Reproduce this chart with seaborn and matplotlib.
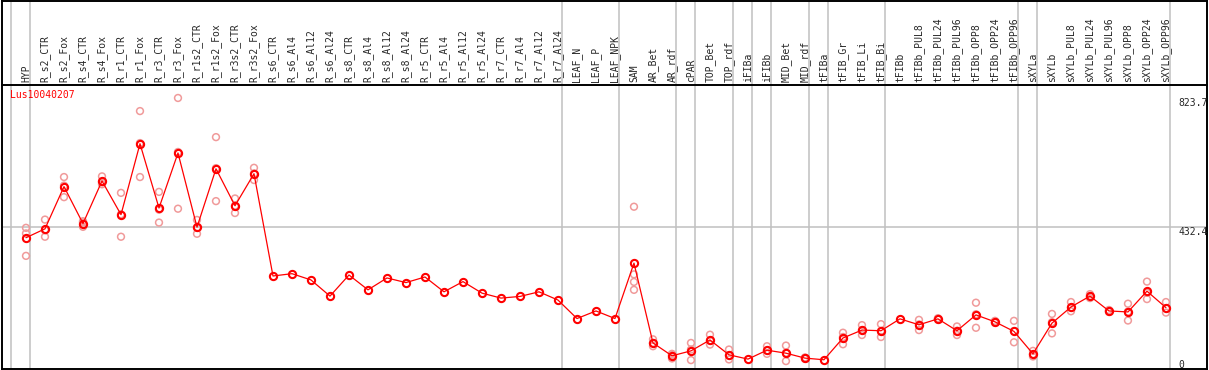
import numpy as np
import pandas as pd
import matplotlib
matplotlib.use('Agg')
import matplotlib.pyplot as plt
import seaborn as sns

# Amostras (eixo x)
samples = ['HYP', 'R_s2_CTR', 'R_s2_Fox', 'R_s4_CTR', 'R_s4_Fox', 'R_r1_CTR', 'R_r1_Fox',
           'R_r3_CTR', 'R_r3_Fox', 'R_r1s2_CTR', 'R_r1s2_Fox', 'R_r3s2_CTR', 'R_r3s2_Fox',
           'R_s6_CTR', 'R_s6_Al4', 'R_s6_Al12', 'R_s6_Al24', 'R_s8_CTR', 'R_s8_Al4', 'R_s8_Al12',
           'R_s8_Al24', 'R_r5_CTR', 'R_r5_Al4', 'R_r5_Al12', 'R_r5_Al24', 'R_r7_CTR', 'R_r7_Al4',
           'R_r7_Al12', 'R_r7_Al24', 'LEAF_N', 'LEAF_P', 'LEAF_NPK', 'SAM', 'AR_Bet', 'AR_rdf',
           'cPAR', 'TOP_Bet', 'TOP_rdf', 'iFIBa', 'iFIBb', 'MID_Bet', 'MID_rdf', 'tFIBa',
           'tFIB_Gr', 'tFIB_Li', 'tFIB_Bi', 'tFIBb', 'tFIBb_PUL8', 'tFIBb_PUL24', 'tFIBb_PUL96',
           'tFIBb_OPP8', 'tFIBb_OPP24', 'tFIBb_OPP96', 'sXYLa', 'sXYLb', 'sXYLb_PUL8',
           'sXYLb_PUL24', 'sXYLb_PUL96', 'sXYLb_OPP8', 'sXYLb_OPP24', 'sXYLb_OPP96']

# Expressão média por amostra
means = [400, 427, 555, 443, 572, 470, 685, 490, 657, 432, 609, 497, 594,
         284, 291, 272, 223, 287, 242, 278, 264, 281, 236, 267, 232, 217, 222, 236, 211,
         155, 178, 155, 323, 81, 42, 57, 90, 45, 32, 59, 50, 35, 30,
         96, 120, 118, 154, 136, 154, 118, 166, 145, 116, 48, 141, 190, 223, 178, 175, 238, 188]

# Réplicas biológicas (vazio = sem réplicas mostradas)
replicates = [[430, 413, 345], [455, 403, 423], [584, 523, 558], [446, 433, 450],
              [586, 562, 568], [536, 403, 471], [784, 584, 687], [539, 446, 485],
              [823.7, 488, 660], [454, 412, 430], [705, 511, 611], [519, 475, 497],
              [612, 575, 595],
              [], [], [], [], [], [], [], [], [], [], [], [], [], [], [], [], [], [], [],
              [494, 289, 266, 242], [92, 71, 81], [34, 44, 48], [81, 29, 61], [106, 76, 88],
              [61, 31, 43], [], [71, 48, 58], [73, 26, 51], [37, 33, 35], [],
              [112, 77, 99], [135, 105, 120], [138, 99, 117], [], [151, 120, 137],
              [156, 152, 154], [131, 105, 118], [203, 127, 168], [148, 142, 145],
              [148, 83, 117], [57, 40, 47], [169, 110, 144], [205, 177, 188],
              [229, 217, 223], [181, 175, 178], [200, 149, 176], [267, 214, 233],
              [205, 173, 186]]

# Fim de cada grupo de tecidos (linhas verticais)
group_ends = [-1, 0, 28, 31, 34, 35, 37, 38, 39, 41, 42, 45, 52, 53, 60]

gene = 'Lus10040207'
y_mid = 432.4
y_max = 823.7

df_mean = pd.DataFrame({'x': np.arange(len(samples)), 'value': means})
rows = [(i, v) for i, reps in enumerate(replicates) for v in reps]
df_rep = pd.DataFrame(rows, columns=['x', 'value'])

sns.set_style('white')
plt.rcParams['font.family'] = ['DejaVu Sans Mono']

W, H = 1209, 370
fig = plt.figure(figsize=(W / 100, H / 100), dpi=100)
left, width = 2 / W, 1205 / W
ax = fig.add_axes([left, 1 / H, width, 283 / H])
ax_head = fig.add_axes([left, 1 - 85 / H, width, 84 / H], sharex=ax)

xlim = (-1.263, 62.16)
grid_c = '#c0c0c0'

for a in (ax, ax_head):
    for g in group_ends:
        a.axvline(g + 0.22, color=grid_c, lw=1.1, zorder=0)
    for s in a.spines.values():
        s.set_color('black')
        s.set_linewidth(1.4)
        s.set_visible(True)

ax.axhline(y_mid, color=grid_c, lw=1.1, zorder=0)

sns.scatterplot(data=df_rep, x='x', y='value', ax=ax, marker='o', s=24,
                facecolors='none', edgecolor='#f09a9a', linewidth=1.1, zorder=2)
sns.lineplot(data=df_mean, x='x', y='value', ax=ax, color='red', lw=0.9,
             marker='o', markersize=5.2, markerfacecolor='none',
             markeredgecolor='red', markeredgewidth=1.5, zorder=3)

ax.set_xlim(*xlim)
ax.set_ylim(2, 860)
ax.set_xlabel('')
ax.set_ylabel('')
ax.set_xticks([])
ax.set_yticks([])
ax.spines['top'].set_visible(False)

ax.text(0.0066, 0.985, gene, transform=ax.transAxes, color='red', fontsize=7,
        ha='left', va='top')
ytx = ax.get_yaxis_transform()
ax.text(0.9765, y_max, str(y_max), transform=ytx, fontsize=7, ha='left', va='top')
ax.text(0.9765, y_mid, str(y_mid), transform=ytx, fontsize=7, ha='left', va='top')
ax.text(0.9765, 0, '0', transform=ytx, fontsize=7, ha='left', va='bottom')

ax_head.set_ylim(0, 1)
ax_head.set_xticks([])
ax_head.set_yticks([])
htx = ax_head.get_xaxis_transform()
for i, name in enumerate(samples):
    ax_head.text(i, 0.03, name, transform=htx, rotation=90, fontsize=7,
                 ha='center', va='bottom')

fig.savefig('out.png', dpi=100)
